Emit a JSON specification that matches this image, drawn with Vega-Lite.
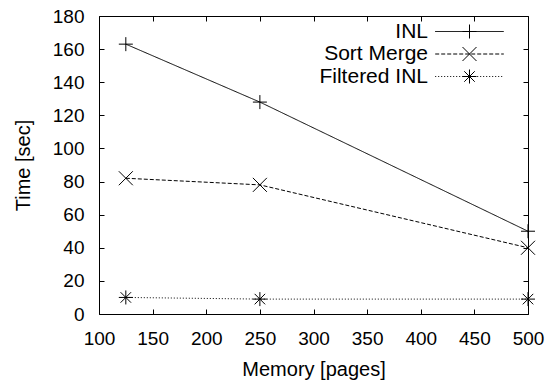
{
  "$schema": "https://vega.github.io/schema/vega-lite/v6.json",
  "width": 429,
  "height": 298,
  "autosize": {"type": "none"},
  "padding": {"left": 99, "top": 16, "right": 22, "bottom": 67},
  "background": "white",
  "config": {
    "font": "Liberation Sans",
    "view": {"stroke": "#000", "strokeWidth": 1},
    "axis": {
      "grid": false,
      "domain": false,
      "tickColor": "#000",
      "tickSize": 5,
      "tickWidth": 1,
      "labelColor": "#000",
      "labelFont": "Liberation Sans",
      "labelFontSize": 19,
      "labelFlush": false,
      "labelOverlap": false,
      "titleFont": "Liberation Sans",
      "titleFontSize": 20,
      "titleFontWeight": "normal",
      "titleColor": "#000"
    },
    "legend": {
      "labelFont": "Liberation Sans",
      "labelFontSize": 21,
      "labelColor": "#000"
    }
  },
  "data": {
    "values": [
      {"series": "INL", "memory": 125, "time": 163},
      {"series": "INL", "memory": 250, "time": 128},
      {"series": "INL", "memory": 500, "time": 50},
      {"series": "Sort Merge", "memory": 125, "time": 82},
      {"series": "Sort Merge", "memory": 250, "time": 78},
      {"series": "Sort Merge", "memory": 500, "time": 40},
      {"series": "Filtered INL", "memory": 125, "time": 10},
      {"series": "Filtered INL", "memory": 250, "time": 9},
      {"series": "Filtered INL", "memory": 500, "time": 9}
    ]
  },
  "layer": [
    {
      "mark": {"type": "line", "color": "#000", "strokeWidth": 1},
      "encoding": {
        "x": {"field": "memory", "type": "quantitative",
              "scale": {"domain": [100, 500], "nice": false, "zero": false},
              "axis": {"orient": "bottom", "values": [100,150,200,250,300,350,400,450,500], "ticks": false, "labelPadding": 15, "title": "Memory [pages]", "titlePadding": 11}},
        "y": {"field": "time", "type": "quantitative",
              "scale": {"domain": [0, 180], "nice": false},
              "axis": {"orient": "left", "values": [0,20,40,60,80,100,120,140,160,180], "ticks": false, "labelPadding": 15, "title": "Time [sec]", "titlePadding": 19}},
        "strokeDash": {"field": "series", "type": "nominal",
                       "scale": {"domain": ["INL", "Sort Merge", "Filtered INL"], "range": [[1, 0], [4, 2], [1, 2]]},
                       "legend": null}
      }
    },
    {
      "mark": {"type": "point", "filled": false, "color": "#000", "strokeWidth": 1, "size": 196, "opacity": 1},
      "encoding": {
        "x": {"field": "memory", "type": "quantitative",
              "axis": {"orient": "top", "offset": -298, "values": [100,150,200,250,300,350,400,450,500], "labels": false, "title": null}},
        "y": {"field": "time", "type": "quantitative",
              "axis": {"orient": "right", "offset": -429, "values": [0,20,40,60,80,100,120,140,160,180], "labels": false, "title": null}},
        "shape": {"field": "series", "type": "nominal",
                  "scale": {"domain": ["INL", "Sort Merge", "Filtered INL"],
                            "range": ["M-1,0L1,0M0,-1L0,1", "M-1,-1L1,1M-1,1L1,-1", "M-1,0L1,0M0,-1L0,1M-0.75,-0.75L0.75,0.75M-0.75,0.75L0.75,-0.75"]},
                  "legend": {"orient": "none", "legendX": 360, "legendY": 5, "title": null, "padding": 0,
                             "labelAlign": "right", "labelOffset": -52, "rowPadding": 0.5, "labelOpacity": 0,
                             "symbolStrokeColor": "#000", "symbolStrokeWidth": 1, "symbolSize": 196}}
      }
    },
    {
      "transform": [{"filter": "datum.time < 0"}],
      "mark": {"type": "point", "filled": false, "color": "#000", "strokeWidth": 1, "size": 196, "opacity": 1},
      "encoding": {
        "x": {"field": "memory", "type": "quantitative",
              "axis": {"orient": "bottom", "offset": -298, "values": [100,150,200,250,300,350,400,450,500], "labels": false, "title": null}},
        "y": {"field": "time", "type": "quantitative",
              "axis": {"orient": "left", "offset": -429, "values": [0,20,40,60,80,100,120,140,160,180], "labels": false, "title": null}},
        "shape": {"field": "series", "type": "nominal",
                  "scale": {"domain": ["INL", "Sort Merge", "Filtered INL"],
                            "range": ["M-4.9,0L4.9,0", "M-4.9,0L4.9,0", "M-4.9,0L4.9,0"]},
                  "legend": {"orient": "none", "legendX": 360, "legendY": 5, "title": null, "padding": 0,
                             "labelAlign": "right", "labelOffset": -52, "rowPadding": 0.5,
                             "symbolStrokeColor": "#000", "symbolStrokeWidth": 1, "symbolSize": 196}},
        "strokeDash": {"field": "series", "type": "nominal",
                       "scale": {"domain": ["INL", "Sort Merge", "Filtered INL"], "range": [[1, 0], [4, 2], [1, 2]]},
                       "legend": {"orient": "none", "legendX": 360, "legendY": 5, "title": null, "padding": 0,
                                  "labelAlign": "right", "labelOffset": -52, "rowPadding": 0.5}}
      }
    }
  ],
  "resolve": {
    "scale": {"shape": "independent"},
    "axis": {"x": "independent", "y": "independent"},
    "legend": {"strokeDash": "independent", "shape": "independent"}
  }
}
